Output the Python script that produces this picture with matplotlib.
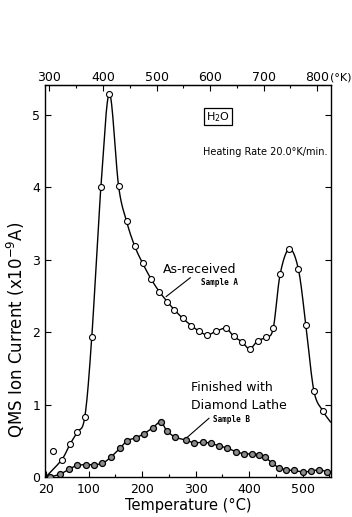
import numpy as np
import matplotlib
matplotlib.use('Agg')
import matplotlib.pyplot as plt

# Sample A (as-received), open circles
a_temp = [50, 65, 79, 93, 106, 123, 139, 156, 171, 186, 201, 217, 232, 247, 260,
          276, 292, 307, 322, 338, 357, 371, 386, 401, 416, 432, 445, 458, 475,
          492, 506, 521, 538]
a_curr = [0.24, 0.45, 0.62, 0.83, 1.93, 4.00, 5.29, 4.02, 3.53, 3.19, 2.95, 2.73,
          2.56, 2.42, 2.31, 2.19, 2.09, 2.01, 1.96, 2.01, 2.05, 1.94, 1.87, 1.77,
          1.88, 1.93, 2.05, 2.80, 3.15, 2.87, 2.10, 1.19, 0.91]
# curve ends (no marker)
a_start = (20, 0.0)
a_end = (552, 0.76)
# stray first reading
a_stray_temp = [34]
a_stray_curr = [0.36]

# Sample B (finished with diamond lathe), filled circles
b_temp = [28, 47, 64, 79, 95, 110, 126, 141, 159, 172, 188, 204, 220, 235, 246,
          262, 282, 297, 313, 328, 344, 359, 375, 391, 405, 418, 430, 442, 455,
          469, 484, 500, 515, 531, 546]
b_curr = [0.0, 0.04, 0.11, 0.16, 0.17, 0.17, 0.19, 0.27, 0.40, 0.50, 0.54, 0.60,
          0.68, 0.76, 0.64, 0.55, 0.51, 0.47, 0.48, 0.465, 0.43, 0.40, 0.35, 0.32,
          0.32, 0.31, 0.27, 0.20, 0.13, 0.10, 0.09, 0.07, 0.08, 0.10, 0.07]

x_ticks = [20, 100, 200, 300, 400, 500]
k_ticks = [300, 400, 500, 600, 700, 800]
y_ticks = [0, 1, 2, 3, 4, 5]


def smooth(x, y, n=16):
    # Catmull-Rom curve through the points
    p = np.column_stack([x, y]).astype(float)
    p = np.vstack([2 * p[0] - p[1], p, 2 * p[-1] - p[-2]])
    out = []
    t = np.linspace(0, 1, n, endpoint=False)[:, None]
    for i in range(1, len(p) - 2):
        p0, p1, p2, p3 = p[i - 1], p[i], p[i + 1], p[i + 2]
        seg = 0.5 * ((2 * p1) + (-p0 + p2) * t + (2 * p0 - 5 * p1 + 4 * p2 - p3) * t ** 2
                     + (-p0 + 3 * p1 - 3 * p2 + p3) * t ** 3)
        out.append(seg)
    out.append(p[-2][None, :])
    out = np.vstack(out)
    return out[:, 0], out[:, 1]


fig = plt.figure(figsize=(3.52, 5.17), dpi=100)
ax = fig.add_axes([45 / 352, 1 - 477 / 517, 286 / 352, 392 / 517])

# Sample A
lx, ly = smooth([a_start[0]] + a_temp + [a_end[0]], [a_start[1]] + a_curr + [a_end[1]])
ax.plot(lx, ly, color='black', lw=1.0, zorder=2)
ax.plot(a_temp, a_curr, 'o', ms=4.3, mfc='white', mec='black', mew=0.8, zorder=3)
ax.plot(a_stray_temp, a_stray_curr, 'o', ms=4.3, mfc='white', mec='black', mew=0.8, zorder=3)

# Sample B
lx, ly = smooth(b_temp, b_curr)
ax.plot(lx, ly, color='black', lw=1.0, zorder=2)
ax.plot(b_temp, b_curr, 'o', ms=4.3, mfc='#8c8c8c', mec='black', mew=0.9, zorder=3)

ax.set_xlim(18.6, 553)
ax.set_ylim(0, 5.41)

ax.set_xticks(x_ticks)
ax.set_xticks(np.arange(50, 551, 50), minor=True)
ax.set_xticklabels([str(v) for v in x_ticks], fontsize=9)
ax.set_yticks(y_ticks)
ax.set_yticklabels([str(v) for v in y_ticks], fontsize=9)
ax.tick_params(axis='both', which='major', direction='in', length=4, width=0.8, pad=3.5,
               right=True)
ax.tick_params(axis='x', which='major', pad=4)
ax.tick_params(axis='x', which='minor', direction='in', length=2.5, width=0.8)
for s in ax.spines.values():
    s.set_linewidth(1.0)

ax.set_xlabel('Temperature (°C)', fontsize=10.5, labelpad=2)
ax.set_ylabel('QMS Ion Current (x10$^{-9}$A)', fontsize=12)
ax.yaxis.set_label_coords(-0.063, 0.375)

# Kelvin scale along the top
top = ax.secondary_xaxis('top', functions=(lambda c: c + 273, lambda k: k - 273))
top.set_xticks(k_ticks)
top.set_xticks(np.arange(350, 851, 50), minor=True)
top.set_xticklabels([str(v) for v in k_ticks], fontsize=9)
top.tick_params(which='major', direction='in', length=4, width=0.8, pad=1)
top.tick_params(which='minor', direction='in', length=2.5, width=0.8)
ax.annotate('(°K)', xy=(800 - 273, 1), xycoords=('data', 'axes fraction'),
            xytext=(9.5, 1.5), textcoords='offset points', ha='left', va='bottom',
            fontsize=8)

# labels on the plot
ax.text(342, 4.97, 'H$_2$O', fontsize=8, ha='center', va='center',
        bbox=dict(boxstyle='square,pad=0.15', fc='white', ec='black', lw=0.9))
ax.text(547, 4.48, 'Heating Rate 20.0°K/min.', fontsize=7, ha='right', va='center')

ax.text(238, 2.86, 'As-received', fontsize=9, ha='left', va='center')
ax.text(311, 2.69, 'Sample A', fontsize=5.5, ha='left', va='center',
        family='DejaVu Sans Mono', fontweight='bold')
ax.plot([290, 245], [2.75, 2.49], color='black', lw=0.8)

ax.text(292, 1.24, 'Finished with', fontsize=9, ha='left', va='center')
ax.text(292, 0.99, 'Diamond Lathe', fontsize=9, ha='left', va='center')
ax.text(332, 0.79, 'Sample B', fontsize=5.5, ha='left', va='center',
        family='DejaVu Sans Mono', fontweight='bold')
ax.plot([325, 280], [0.81, 0.52], color='black', lw=0.8)

fig.savefig('out.png', dpi=100)
